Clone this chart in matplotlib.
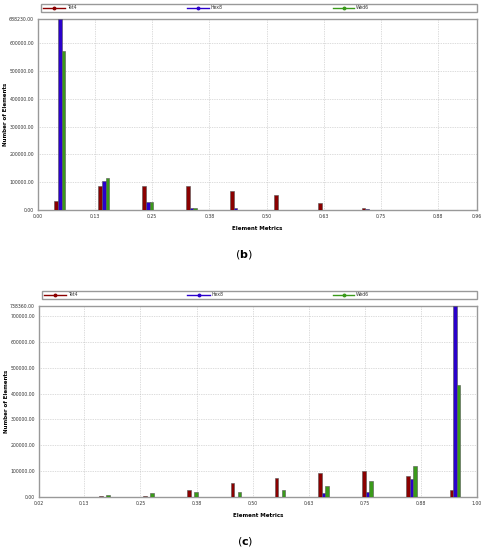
import numpy as np
import matplotlib
matplotlib.use("Agg")
import matplotlib.pyplot as plt
from matplotlib.lines import Line2D
from matplotlib.patches import Rectangle

series_names = ["Tet4", "Hex8", "Wed6"]
series_colors = ["#8b0000", "#2a00cc", "#3a9a1a"]

# panel (b): 10 bins between 0 and 0.96
range_b = (0.0, 0.96)
tick_labels_b = ["0.00", "0.13", "0.25", "0.38", "0.50", "0.63", "0.75", "0.88", "0.96"]
tet4_b = [33000, 86000, 88000, 85000, 70000, 53000, 26000, 6000, 1000, 800]
hex8_b = [688230, 105000, 30000, 9000, 8000, 1500, 1500, 2000, 1000, 800]
wed6_b = [572000, 116000, 28000, 6000, 1000, 500, 300, 200, 500, 300]

# panel (c): 10 bins between 0.024 and 1.00
range_c = (0.024, 1.0)
tick_labels_c = ["0.02", "0.13", "0.25", "0.38", "0.50", "0.63", "0.75", "0.88", "1.00"]
tet4_c = [1500, 2000, 5000, 28000, 55000, 72000, 92000, 99000, 81000, 28000]
hex8_c = [1500, 500, 300, 1000, 1000, 500, 14000, 19000, 68000, 738360]
wed6_c = [1500, 7000, 14000, 18000, 21000, 26000, 41000, 60000, 119000, 432000]


def draw_legend(ax):
    # legend strip above the plot, entries at fixed spots like the original tool
    ax.add_patch(Rectangle((0.006, 1.037), 0.994, 0.042, transform=ax.transAxes,
                           fill=False, edgecolor="#999999", linewidth=1.0, clip_on=False))
    spots = [(0.011, 0.062), (0.339, 0.390), (0.672, 0.720)]
    for (x0, x1), name, color in zip(spots, series_names, series_colors):
        ax.add_line(Line2D([x0, x1], [1.058, 1.058], transform=ax.transAxes,
                           color=color, lw=1.0, clip_on=False))
        ax.add_line(Line2D([(x0 + x1) / 2], [1.058], transform=ax.transAxes,
                           color=color, marker="o", markersize=1.8, clip_on=False))
        ax.text(x1 + 0.004, 1.058, name, transform=ax.transAxes, fontsize=3.3,
                va="center", ha="left", color="#333333")


def draw_panel(ax, xrange, tick_labels, values, caption):
    lo, hi = xrange
    nbins = len(values[0])
    step = (hi - lo) / nbins
    centers = lo + (np.arange(nbins) + 0.5) * step
    w = 0.008
    for i, (vals, color) in enumerate(zip(values, series_colors)):
        ax.bar(centers + (i - 1) * w, vals, width=w, color=color,
               edgecolor="#555555", linewidth=0.4, zorder=3)

    ymax = max(max(v) for v in values)
    ax.set_xlim(lo, hi)
    ax.set_ylim(0, ymax)

    xt = [lo] + [0.125 * k for k in range(1, 8)] + [hi]
    ax.set_xticks(xt)
    ax.set_xticklabels(tick_labels)
    yt = list(range(0, int(ymax), 100000)) + [ymax]
    ax.set_yticks(yt)
    ax.set_yticklabels(["%.2f" % y for y in yt])
    ax.tick_params(length=0, labelsize=3.3, pad=3, colors="#333333")

    ax.grid(True, linestyle=(0, (1, 1.5)), color="#bbbbbb", linewidth=0.5, zorder=0)
    for s in ax.spines.values():
        s.set_color("#999999")
        s.set_linewidth(1.0)

    ax.set_xlabel("Element Metrics", fontsize=4.0, fontweight="bold", labelpad=5)
    ax.set_ylabel("Number of Elements", fontsize=4.0, fontweight="bold")
    ax.yaxis.set_label_coords(-0.068, 0.5)

    draw_legend(ax)

    ax.text(0.47, -0.2, "($\\mathbf{%s}$)" % caption, transform=ax.transAxes,
            ha="center", va="top", fontsize=8)


def main():
    fig = plt.figure(figsize=(4.86, 5.5), dpi=100)
    ax1 = fig.add_axes([38 / 486, 1 - 210 / 550, 439 / 486, 191 / 550])
    ax2 = fig.add_axes([39 / 486, 1 - 497 / 550, 438 / 486, 191 / 550])
    draw_panel(ax1, range_b, tick_labels_b, [tet4_b, hex8_b, wed6_b], "b")
    draw_panel(ax2, range_c, tick_labels_c, [tet4_c, hex8_c, wed6_c], "c")
    fig.savefig("out.png", dpi=100)


if __name__ == "__main__":
    main()
